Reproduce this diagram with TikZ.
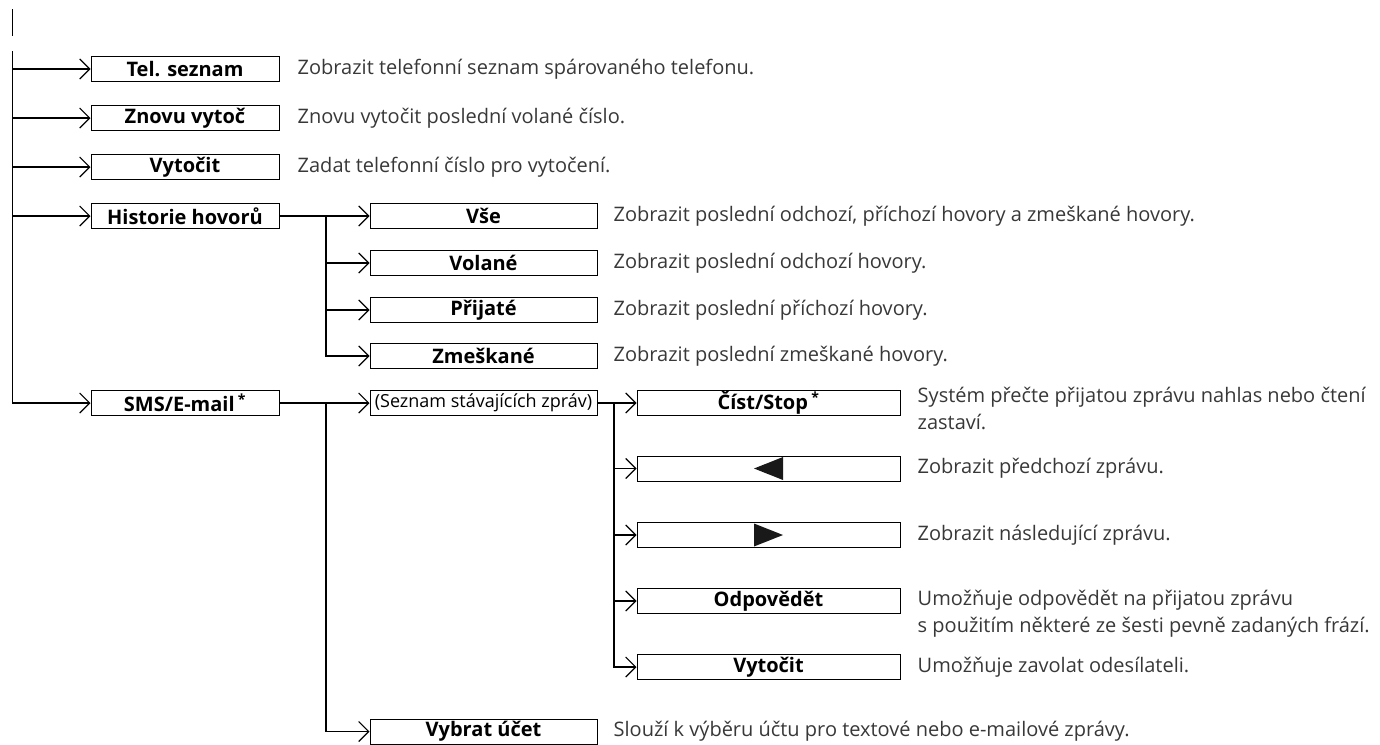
\documentclass[tikz,border=0pt]{standalone}
\usepackage{fontspec}
\setmainfont{Open Sans}
\usepackage{tikz}
\usetikzlibrary{positioning}
\usetikzlibrary{arrows.meta}

\tikzset{
  menu/.style={draw=black, line width=1pt, minimum height=25pt, inner sep=0pt,
    font=\bfseries\fontsize{20}{22}\selectfont},
  menuA/.style={menu, minimum width=188pt},
  menuB/.style={menu, minimum width=227pt},
  menuC/.style={menu, minimum width=263pt},
  desc/.style={anchor=base west, align=left, inner sep=0pt, text=black!78,
    font=\fontsize{20}{27}\selectfont},
  link/.style={line width=1.8pt, -{Straight Barb[length=10pt,width=20pt,line width=1.1pt]}},
  bus/.style={line width=1.8pt},
}

\begin{document}
\begin{tikzpicture}[x=1pt,y=-1pt]
\useasboundingbox (0,0) rectangle (1380,744);

% trunk
\coordinate (top0) at (12.5,9);
\coordinate (top1) at (12.5,36);
\coordinate (trunk) at (12.5,51);
\draw[bus] (top0) -- (top1);

% first level
\node[menuA] (tel) at (185,69) {Tel. seznam};
\node[menuA] (znovu) at (185,118) {Znovu vytoč};
\node[menuA] (vytocit) at (185,167) {Vytočit};
\node[menuA] (hist) at (185,216) {Historie hovorů};
\node[menuA] (sms) at (185,403) {SMS/E-mail\,\textsuperscript{*}};

\draw[link] (trunk) |- (sms.west);
\foreach \n in {tel,znovu,vytocit,hist}
  \draw[link] (trunk |- \n.west) -- (\n.west);

\node[desc] (d-tel) at ([xshift=18pt,yshift=-5pt]tel.east) {Zobrazit telefonní seznam spárovaného telefonu.};
\node[desc] (d-znovu) at ([xshift=18pt,yshift=-5pt]znovu.east) {Znovu vytočit poslední volané číslo.};
\node[desc] (d-vytocit) at ([xshift=18pt,yshift=-5pt]vytocit.east) {Zadat telefonní číslo pro vytočení.};

% call history
\coordinate (hbus) at (326,216);
\node[menuB] (vse) at (483.5,216) {Vše};
\node[menuB] (volane) at (483.5,263) {Volané};
\node[menuB] (prijate) at (483.5,310) {Přijaté};
\node[menuB] (zmes) at (483.5,356) {Zmeškané};

\draw[link] (hist.east) -- (vse.west);
\draw[link] (hbus) |- (zmes.west);
\foreach \n in {volane,prijate}
  \draw[link] (hbus |- \n.west) -- (\n.west);

\node[desc] (d-vse) at ([xshift=16pt,yshift=-5pt]vse.east) {Zobrazit poslední odchozí, příchozí hovory a zmeškané hovory.};
\node[desc] (d-volane) at ([xshift=16pt,yshift=-5pt]volane.east) {Zobrazit poslední odchozí hovory.};
\node[desc] (d-prijate) at ([xshift=16pt,yshift=-5pt]prijate.east) {Zobrazit poslední příchozí hovory.};
\node[desc] (d-zmes) at ([xshift=16pt,yshift=-5pt]zmes.east) {Zobrazit poslední zmeškané hovory.};

% messages
\coordinate (sbus) at (326,403);
\node[menuB, font=\fontsize{18}{20}\selectfont] (zpravy) at (483.5,403) {(Seznam stávajících zpráv)};
\node[menuB] (ucet) at (483.5,731.5) {Vybrat účet};

\draw[link] (sms.east) -- (zpravy.west);
\draw[link] (sbus) |- (ucet.west);

\node[desc] (d-ucet) at ([xshift=16pt,yshift=-5pt]ucet.east) {Slouží k výběru účtu pro textové nebo e-mailové zprávy.};

% message actions
\coordinate (mbus) at (614,403);
\node[menuC] (cist) at (768.5,403) {Číst/Stop\,\textsuperscript{*}};
\node[menuC] (predchozi) at (768.5,468.5) {};
\node[menuC] (dalsi) at (768.5,535) {};
\node[menuC] (odpoved) at (768.5,601) {Odpovědět};
\node[menuC] (volat) at (768.5,667) {Vytočit};

\fill[black!90] ([xshift=-14.5pt]predchozi.center) -- ([xshift=14.5pt,yshift=11.5pt]predchozi.center)
  -- ([xshift=14.5pt,yshift=-11.5pt]predchozi.center) -- cycle;
\fill[black!90] ([xshift=14.5pt]dalsi.center) -- ([xshift=-14.5pt,yshift=11.5pt]dalsi.center)
  -- ([xshift=-14.5pt,yshift=-11.5pt]dalsi.center) -- cycle;

\draw[link] (zpravy.east) -- (cist.west);
\draw[link] (mbus) |- (volat.west);
\foreach \n in {predchozi,dalsi,odpoved}
  \draw[link] (mbus |- \n.west) -- (\n.west);

% two-line texts: base sits on the last line
\node[desc] (d-cist) at ([xshift=17pt,yshift=-26pt]cist.east) {Systém přečte přijatou zprávu nahlas nebo čtení\\zastaví.};
\node[desc] (d-predchozi) at ([xshift=17pt,yshift=-5pt]predchozi.east) {Zobrazit předchozí zprávu.};
\node[desc] (d-dalsi) at ([xshift=17pt,yshift=-5pt]dalsi.east) {Zobrazit následující zprávu.};
\node[desc] (d-odpoved) at ([xshift=17pt,yshift=-31pt]odpoved.east) {Umožňuje odpovědět na přijatou zprávu\\s použitím některé ze šesti pevně zadaných frází.};
\node[desc] (d-volat) at ([xshift=17pt,yshift=-5pt]volat.east) {Umožňuje zavolat odesílateli.};
\end{tikzpicture}
\end{document}
